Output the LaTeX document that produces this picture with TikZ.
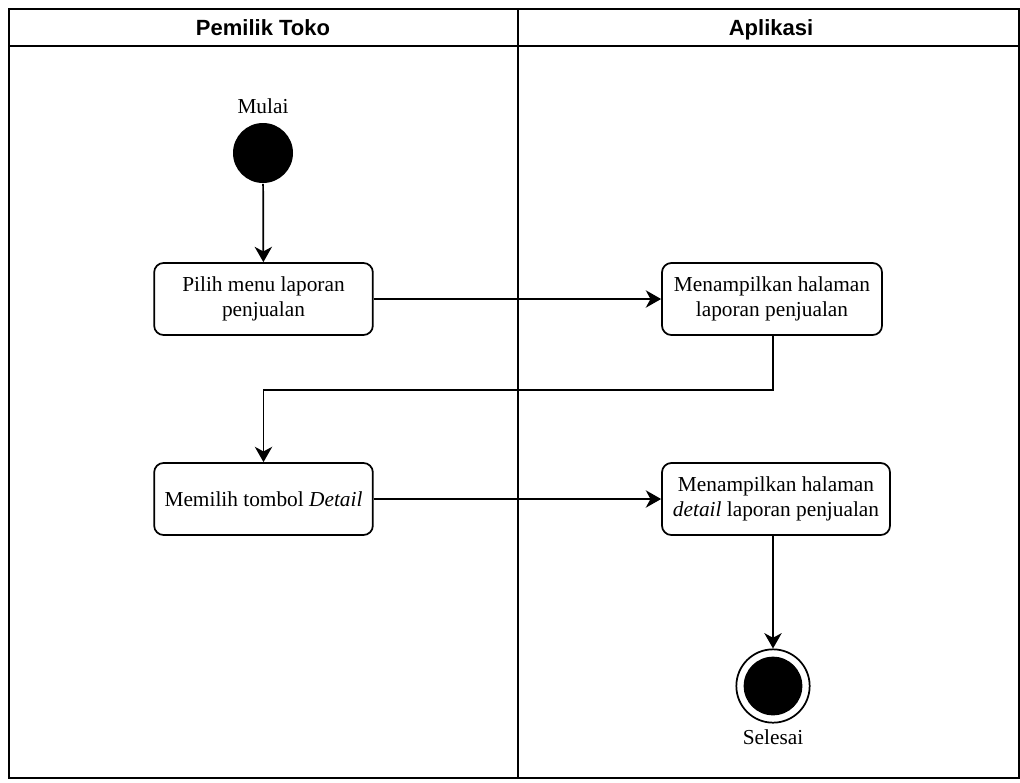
\documentclass[tikz,border=0pt]{standalone}
\usepackage{fontspec}
\setmainfont{Liberation Serif}
\newfontfamily\headfont{Liberation Sans}
\usetikzlibrary{arrows.meta}
\begin{document}
\begin{tikzpicture}[x=0.75pt,y=-0.75pt,
  line width=1.3pt,
  lane/.style={draw=black},
  head/.style={font=\headfont\bfseries\fontsize{16.5}{19}\selectfont,
    text height=12pt, text depth=3.5pt},
  action/.style={draw, rounded corners=7pt, minimum height=54pt, align=center,
    font=\fontsize{16}{19}\selectfont, inner sep=2pt},
  startnode/.style={circle, fill=black, minimum size=45pt, inner sep=0pt},
  label/.style={font=\fontsize{16}{19}\selectfont},
  flow/.style={-{Stealth[length=11.5pt,width=13pt,inset=3.5pt]}}]
\useasboundingbox (0,0) rectangle (1020,782);
% swimlane frame
\draw[lane] (9,9) rectangle (1019,778);
\draw[lane] (9,46) -- (1019,46);
\draw[lane] (518,9) -- (518,778);
\node[head] (h1) at (263,30) {Pemilik Toko};
\node[head] (h2) at (771,30) {Aplikasi};
% start
\node[startnode] (start) at (263,153) {};
\node[label] (mulai) at (263,106) {Mulai};
% actions
\node[action, minimum width=164pt] (a1) at (263.5,299) {Pilih menu laporan\\penjualan};
\node[action, minimum width=165pt] (a2) at (772,299) {Menampilkan halaman\\laporan penjualan};
\node[action, minimum width=164pt] (a3) at (263.5,499) {Memilih tombol \textit{Detail}};
\node[action, minimum width=171pt] (a4) at (776,499) {Menampilkan halaman\\\textit{detail} laporan penjualan};
% end
\node[circle, draw, minimum size=55pt, inner sep=0pt] (stop) at (773,686) {};
\node[startnode, minimum size=44pt] (stopin) at (773,686) {};
\node[label] (selesai) at (773,737) {Selesai};
% flows
\draw[flow] (start) -- (a1);
\draw[flow] (a1) -- (a2);
\draw[flow] (a2.south -| 773,0) -- (773,390) -- (263.5,390) -- (a3.north);
\draw[flow] (a3) -- (a4);
\draw[flow] (a4.south -| 773,0) -- (stop.north);
\end{tikzpicture}
\end{document}
